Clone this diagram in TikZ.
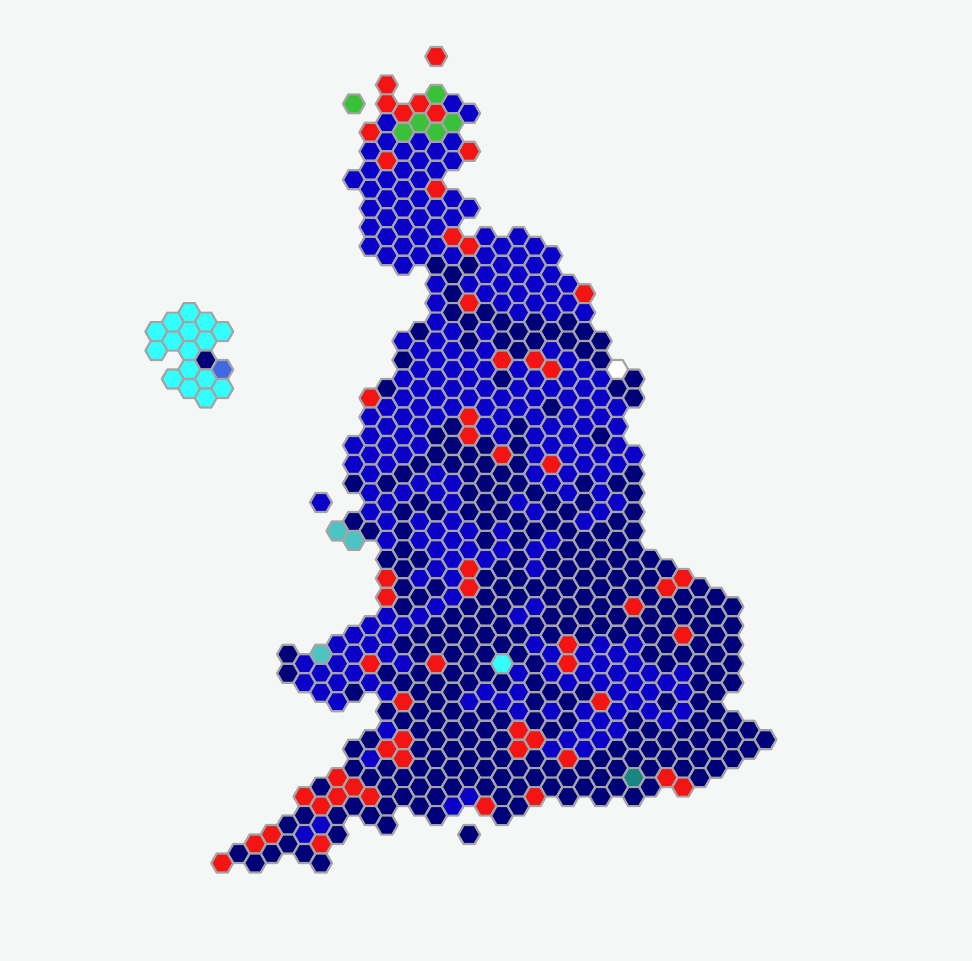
\documentclass[tikz,border=0pt]{standalone}
\definecolor{pagebg}{HTML}{F5F7F7}
\definecolor{hexline}{HTML}{A4A4A4}
\definecolor{hB}{HTML}{0A00C8}
\definecolor{hD}{HTML}{000078}
\definecolor{hR}{HTML}{F41414}
\definecolor{hG}{HTML}{39C139}
\definecolor{hT}{HTML}{4CC4C4}
\definecolor{hC}{HTML}{33FFFF}
\definecolor{hO}{HTML}{4169E1}
\definecolor{hK}{HTML}{1A8585}
\definecolor{hW}{HTML}{FFFFFF}
\tikzset{hexcell/.style={draw=hexline,line width=2.2pt,line join=round}}
\newcommand\hexrow[3]{%
  \foreach \cname [count=\i from 0] in {#3}{%
    \pgfmathsetmacro\hx{222.2+16.46*(#2+2*\i)}%
    \pgfmathsetmacro\hy{56.4+9.49*#1}%
    \draw[hexcell,fill=h\cname,shift={(\hx pt,-\hy pt)}]
      (0:10.97)--(60:10.97)--(120:10.97)--(180:10.97)--(240:10.97)--(300:10.97)--cycle;
  }%
}
\begin{document}
\begin{tikzpicture}[x=1pt,y=1pt]
\useasboundingbox (0,0) rectangle (972,-961);
\fill[pagebg] (0,0) rectangle (972,-961);
\hexrow{0}{13}{R}
\hexrow{3}{10}{R}
\hexrow{4}{13}{G}
\hexrow{5}{8}{G,R,R,B}
\hexrow{6}{11}{R,R,B}
\hexrow{7}{10}{B,G,G}
\hexrow{8}{9}{R,G,G}
\hexrow{9}{10}{B,B,B}
\hexrow{10}{9}{B,B,B,R}
\hexrow{11}{10}{R,B,B}
\hexrow{12}{9}{B,B,B}
\hexrow{13}{8}{B,B,B}
\hexrow{14}{9}{B,B,R}
\hexrow{15}{10}{B,B,B}
\hexrow{16}{9}{B,B,B,B}
\hexrow{17}{10}{B,B,B}
\hexrow{18}{9}{B,B,B}
\hexrow{19}{10}{B,B,R,B,B}
\hexrow{20}{9}{B,B,B,R,B,B}
\hexrow{21}{10}{B,B,B,B,B,B}
\hexrow{22}{11}{B,D,D,B,B}
\hexrow{23}{14}{D,B,B,B}
\hexrow{24}{13}{B,B,B,B,B}
\hexrow{25}{14}{D,B,B,B,R}
\hexrow{26}{13}{B,R,B,B,B}
\hexrow{27}{14}{D,D,B,B,B}
\hexrow{28}{13}{B,D,D,D,D}
\hexrow{29}{12}{D,B,B,D,D,D}
\hexrow{30}{11}{B,B,D,D,D,D,D}
\hexrow{31}{12}{B,B,B,D,B,D}
\hexrow{32}{11}{D,B,B,R,R,B,D}
\hexrow{33}{12}{B,B,B,B,R,B,W}
\hexrow{34}{11}{B,B,B,D,B,B,B,D}
\hexrow{35}{10}{D,B,B,B,B,B,B,D}
\hexrow{36}{9}{R,B,B,B,B,B,B,B,D}
\hexrow{37}{10}{B,B,B,B,B,D,B,B}
\hexrow{38}{9}{B,B,B,R,B,B,B,B}
\hexrow{39}{10}{B,B,D,B,D,B,B,B}
\hexrow{40}{9}{B,B,D,R,B,B,B,D}
\hexrow{41}{8}{B,B,B,D,D,D,B,B,B}
\hexrow{42}{9}{B,B,D,D,R,B,B,B,B}
\hexrow{43}{8}{B,B,D,D,D,D,R,B,B}
\hexrow{44}{9}{B,D,B,D,D,B,B,B,D}
\hexrow{45}{8}{D,D,B,B,D,D,B,D,D}
\hexrow{46}{9}{B,B,B,D,D,D,B,B,D}
\hexrow{47}{6}{B}
\hexrow{47}{10}{B,D,B,D,B,D,D,B}
\hexrow{48}{9}{B,D,D,D,D,B,D,B,D}
\hexrow{49}{8}{D,B,B,B,D,D,D,B,D}
\hexrow{50}{7}{T,D,D,B,B,B,D,D,D,D}
\hexrow{51}{8}{T,B,B,B,D,D,B,D,D}
\hexrow{52}{11}{D,B,B,B,B,D,D,D}
\hexrow{53}{10}{D,D,B,B,D,D,D,D,D}
\hexrow{54}{11}{D,B,R,D,B,D,D,D,D}
\hexrow{55}{10}{R,B,B,D,D,D,D,D,D,R}
\hexrow{56}{11}{D,D,R,D,D,D,D,D,R,D}
\hexrow{57}{10}{R,D,B,D,D,D,D,D,D,D,D}
\hexrow{58}{11}{D,B,D,D,B,D,D,R,D,D,D}
\hexrow{59}{10}{B,B,D,D,B,D,D,D,D,D,D}
\hexrow{60}{9}{B,B,D,D,D,D,D,D,D,D,D,D}
\hexrow{61}{8}{B,B,D,D,D,D,D,D,D,D,R,D}
\hexrow{62}{7}{B,B,D,D,D,D,B,R,B,B,D,D,D}
\hexrow{63}{4}{D,T,B,B,D,D,D,D,B,B,B,D,D,D}
\hexrow{64}{5}{B,B,R,B,R,D,C,D,R,B,B,D,D,D}
\hexrow{65}{4}{D,B,B,D,D,D,D,B,B,B,B,B,B,D}
\hexrow{66}{5}{B,B,B,D,D,D,D,D,B,B,B,B,D,D}
\hexrow{67}{6}{B,D,B,D,D,B,B,D,D,B,B,B,D}
\hexrow{68}{7}{B}
\hexrow{68}{11}{R,D,B,B,D,D,R,B,D,D}
\hexrow{69}{10}{D,D,D,D,B,B,B,B,B,B,D}
\hexrow{70}{11}{D,D,D,D,D,D,B,D,B,D,D}
\hexrow{71}{10}{B,D,D,D,R,D,B,B,D,D,D,D}
\hexrow{72}{9}{D,R,D,D,D,R,B,B,D,D,D,D,D}
\hexrow{73}{8}{D,R,D,D,D,R,B,B,D,D,D,D,D}
\hexrow{74}{9}{B,R,D,D,D,D,R,D,D,D,D,D}
\hexrow{75}{8}{D,D,D,D,D,D,D,D,D,D,D,D}
\hexrow{76}{7}{R,D,D,D,D,D,D,D,D,K,R,D}
\hexrow{77}{6}{D,R,D,D,D,D,D,D,D,D,D,R}
\hexrow{78}{5}{R,R,R,D,D,B,D,R,D,D,D}
\hexrow{79}{6}{R,D,D,D,B,R,D}
\hexrow{80}{5}{D,D,D}
\hexrow{80}{13}{D}
\hexrow{80}{17}{D}
\hexrow{81}{4}{D,B}
\hexrow{81}{10}{D}
\hexrow{82}{3}{R,B,D}
\hexrow{82}{15}{D}
\hexrow{83}{2}{R,D,R}
\hexrow{84}{1}{D,D,D}
\hexrow{85}{0}{R,D}
\hexrow{85}{6}{D}
\hexrow{27}{-2}{C}
\hexrow{28}{-3}{C,C}
\hexrow{29}{-4}{C,C,C}
\hexrow{30}{-3}{C,C}
\hexrow{31}{-4}{C,C}
\hexrow{32}{-1}{D}
\hexrow{33}{-2}{C,O}
\hexrow{34}{-3}{C,C}
\hexrow{35}{-2}{C,C}
\hexrow{36}{-1}{C}
\end{tikzpicture}
\end{document}
